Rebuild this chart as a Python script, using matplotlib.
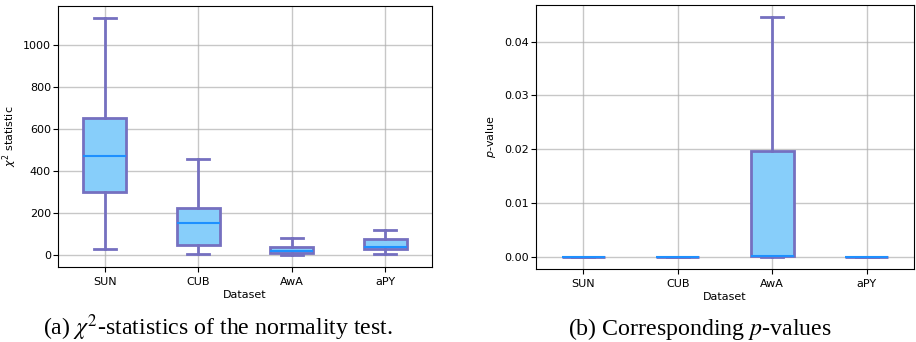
import matplotlib
matplotlib.use("Agg")
import matplotlib.pyplot as plt

categories = ["SUN", "CUB", "AwA", "aPY"]

# chi^2 statistic box stats: (low whisker, Q1, median, Q3, high whisker)
chi_low = [31, 5, 1, 5]
chi_q1 = [302, 50, 9, 28]
chi_med = [470, 155, 22, 41]
chi_q3 = [653, 223, 38, 77]
chi_high = [1128, 457, 81, 120]

# p-value box stats
p_low = [0.0, 0.0, 0.0, 0.0]
p_q1 = [0.0, 0.0, 0.00005, 0.0]
p_med = [0.0, 0.0, 0.0002, 0.0]
p_q3 = [0.0, 0.0, 0.0196, 0.0]
p_high = [0.0, 0.0, 0.04454, 0.0]

EDGE = "#7570c0"
FACE = "#87cefa"
MED = "#1e90ff"


def stats(lo, q1, med, q3, hi):
    out = []
    for c, a, b, m, d, e in zip(categories, lo, q1, med, q3, hi):
        out.append(dict(label=c, whislo=a, q1=b, med=m, q3=d, whishi=e, fliers=[]))
    return out


fig = plt.figure(figsize=(9.16, 3.42), dpi=100)
W, H = 916, 342
ax1 = fig.add_axes([58 / W, 1 - 267 / H, (432 - 58) / W, (267 - 6) / H])
ax2 = fig.add_axes([536 / W, 1 - 269 / H, (914 - 536) / W, (269 - 5) / H])

for ax, st in ((ax1, stats(chi_low, chi_q1, chi_med, chi_q3, chi_high)),
               (ax2, stats(p_low, p_q1, p_med, p_q3, p_high))):
    ax.bxp(st, widths=0.46, patch_artist=True, showfliers=False,
           boxprops=dict(facecolor=FACE, edgecolor=EDGE, linewidth=2),
           whiskerprops=dict(color=EDGE, linewidth=2),
           capprops=dict(color=EDGE, linewidth=2),
           medianprops=dict(color=MED, linewidth=1.5))
    ax.grid(True, color="#b0b0b0", linewidth=1, alpha=0.7)
    ax.set_axisbelow(True)
    ax.set_xlabel("Dataset", fontsize=8, labelpad=2)
    ax.tick_params(labelsize=8)
    ax.tick_params(axis="y", pad=1.5)
    ax.set_xlim(0.5, 4.5)

ax1.set_ylim(-56, 1183)
ax1.set_yticks([0, 200, 400, 600, 800, 1000])
ax1.set_ylabel(r"$\chi^2$ statistic", fontsize=8)
ax1.yaxis.set_label_coords(-0.105, 0.5)

ax2.set_ylim(-0.0023, 0.0468)
ax2.set_yticks([0.0, 0.01, 0.02, 0.03, 0.04])
ax2.set_yticklabels(["0.00", "0.01", "0.02", "0.03", "0.04"])
ax2.set_ylabel(r"$p$-value", fontsize=8)
ax2.yaxis.set_label_coords(-0.10, 0.5)

fig.text(218 / W, 1 - 335 / H, r"(a) $\chi^2$-statistics of the normality test.",
         ha="center", va="baseline", fontsize=17.2, family="Liberation Serif",
         math_fontfamily="stix")
fig.text(699.5 / W, 1 - 335 / H, r"(b) Corresponding $p$-values",
         ha="center", va="baseline", fontsize=17.2, family="Liberation Serif",
         math_fontfamily="stix")

fig.savefig("out.png", dpi=100)
